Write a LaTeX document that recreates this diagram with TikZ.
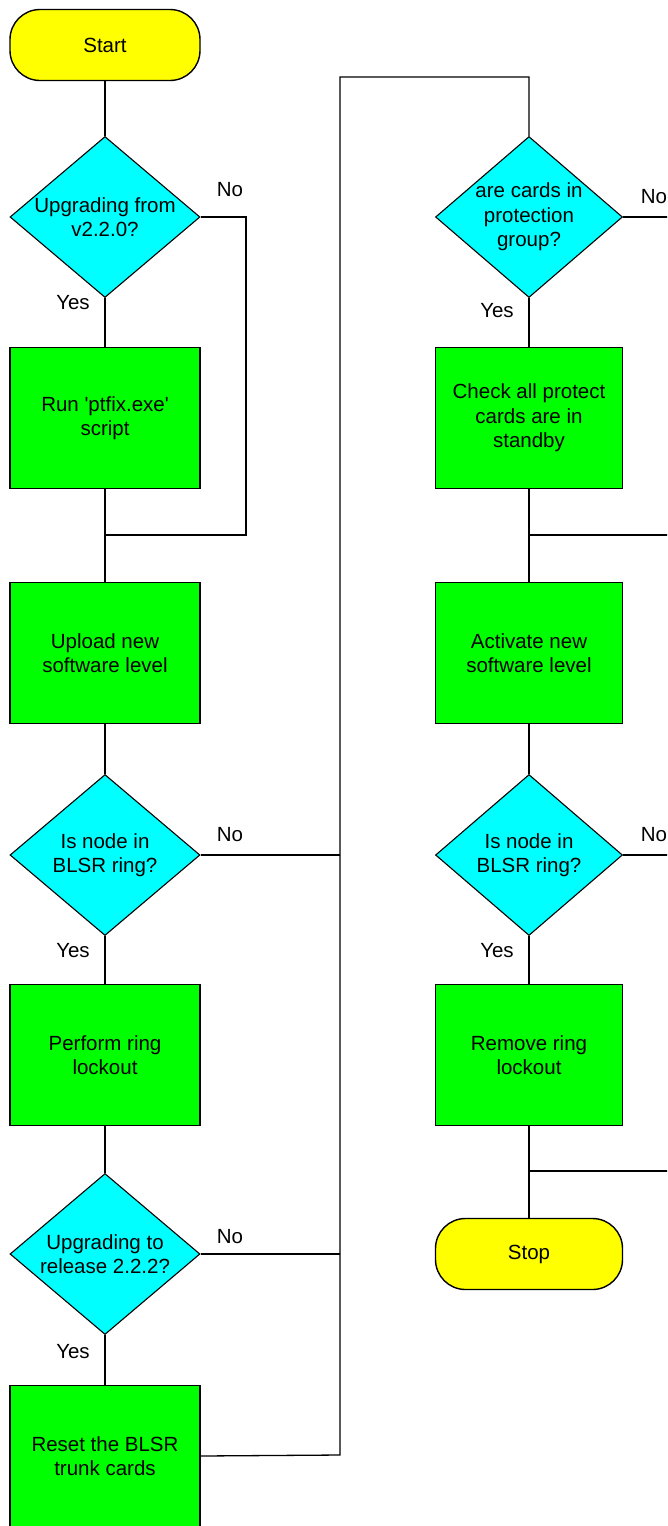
\documentclass[tikz,border=0pt]{standalone}
\usepackage{fontspec}
\setmainfont{Liberation Sans}
\usetikzlibrary{shapes.geometric}
\definecolor{termyellow}{RGB}{255,255,0}
\definecolor{askcyan}{RGB}{0,255,255}
\definecolor{stepgreen}{RGB}{0,255,0}
\begin{document}
\begin{tikzpicture}[x=1pt,y=-1pt,
  every node/.style={font=\fontsize{20.5}{24.5}\selectfont, align=center},
  terminal/.style={draw, line width=1.4pt, fill=termyellow, rounded corners=30pt,
    minimum width=190pt, minimum height=71pt, inner sep=0pt},
  stepbox/.style={draw, line width=1.4pt, fill=stepgreen,
    minimum width=190pt, minimum height=141pt, inner sep=0pt},
  decision/.style={draw, line width=1.1pt, fill=askcyan, diamond,
    minimum width=190pt, minimum height=161pt, inner sep=0pt},
  link/.style={line width=1.3pt},
  tag/.style={inner sep=0pt}]
\useasboundingbox (0,0) rectangle (667,1526);
\clip (0,0) rectangle (667,1526);
\fill[white] (0,0) rectangle (667,1526);

% junction points and the shared return bus
\coordinate (j1) at (105,535);
\coordinate (j1r) at (246,535);
\coordinate (bt) at (340,77);
\coordinate (bb) at (340,1455);
\coordinate (j2) at (529,535);
\coordinate (j3) at (529,1171);
\coordinate (rim) at (690,0);

% left column
\node[terminal] (start) at (105,45) {Start};
\node[decision] (q1) at (105,217) {};
\node[tag] (q1t) at (q1) {Upgrading from\\v2.2.0?};
\node[stepbox] (b1) at (105,418) {Run \textquotesingle ptfix.exe\textquotesingle\\script};
\node[stepbox] (b2) at (105,653) {Upload new\\software level};
\node[decision] (q2) at (105,855) {};
\node[tag] (q2t) at (q2) {Is node in\\BLSR ring?};
\node[stepbox] (b3) at (105,1055) {Perform ring\\lockout};
\node[decision] (q3) at (105,1254) {};
\node[tag] (q3t) at (q3) {Upgrading to\\release 2.2.2?};
\node[stepbox] (b4) at (105,1456) {Reset the BLSR\\trunk cards};

% right column
\node[decision, minimum width=187pt] (q4) at (529,217) {};
\node[tag] (q4t) at (q4) {are cards in\\protection\\group?};
\node[stepbox, minimum width=187pt] (b5) at (529,418) {Check all protect\\cards are in\\standby};
\node[stepbox, minimum width=187pt] (b6) at (529,653) {Activate new\\software level};
\node[decision, minimum width=187pt] (q5) at (529,855) {};
\node[tag] (q5t) at (q5) {Is node in\\BLSR ring?};
\node[stepbox, minimum width=187pt] (b7) at (529,1055) {Remove ring\\lockout};
\node[terminal, minimum width=187pt] (stop) at (529,1254) {Stop};

% branch labels
\node[tag] (n1) at (230,190) {No};
\node[tag] (y1) at (73,303) {Yes};
\node[tag] (n2) at (230,835) {No};
\node[tag] (y2) at (73,951) {Yes};
\node[tag] (n3) at (230,1237) {No};
\node[tag] (y3) at (73,1352) {Yes};
\node[tag] (n4) at (654,197) {No};
\node[tag] (y4) at (497,311) {Yes};
\node[tag] (n5) at (654,835) {No};
\node[tag] (y5) at (497,951) {Yes};

% left column flow
\draw[link] (start) -- (q1);
\draw[link] (q1) -- (b1);
\draw[link] (q1.east) -| (j1r) -- (j1);
\draw[link] (b1) -- (j1) -- (b2);
\draw[link] (b2) -- (q2);
\draw[link] (q2) -- (b3);
\draw[link] (b3) -- (q3);
\draw[link] (q3) -- (b4);

% "No" branches and the bus into the right column
\draw[link] (q2.east) -- (q2.east -| bt);
\draw[link] (q3.east) -- (q3.east -| bt);
\draw[link] (b4.east) -- (bb) -- (bt) -| (q4.north);

% right column flow
\draw[link] (q4) -- (b5);
\draw[link] (q4.east) -- (q4.east -| rim);
\draw[link] (b5) -- (j2) -- (b6);
\draw[link] (j2) -- (j2 -| rim);
\draw[link] (b6) -- (q5);
\draw[link] (q5) -- (b7);
\draw[link] (q5.east) -- (q5.east -| rim);
\draw[link] (b7) -- (j3) -- (stop);
\draw[link] (j3) -- (j3 -| rim);
\end{tikzpicture}
\end{document}
